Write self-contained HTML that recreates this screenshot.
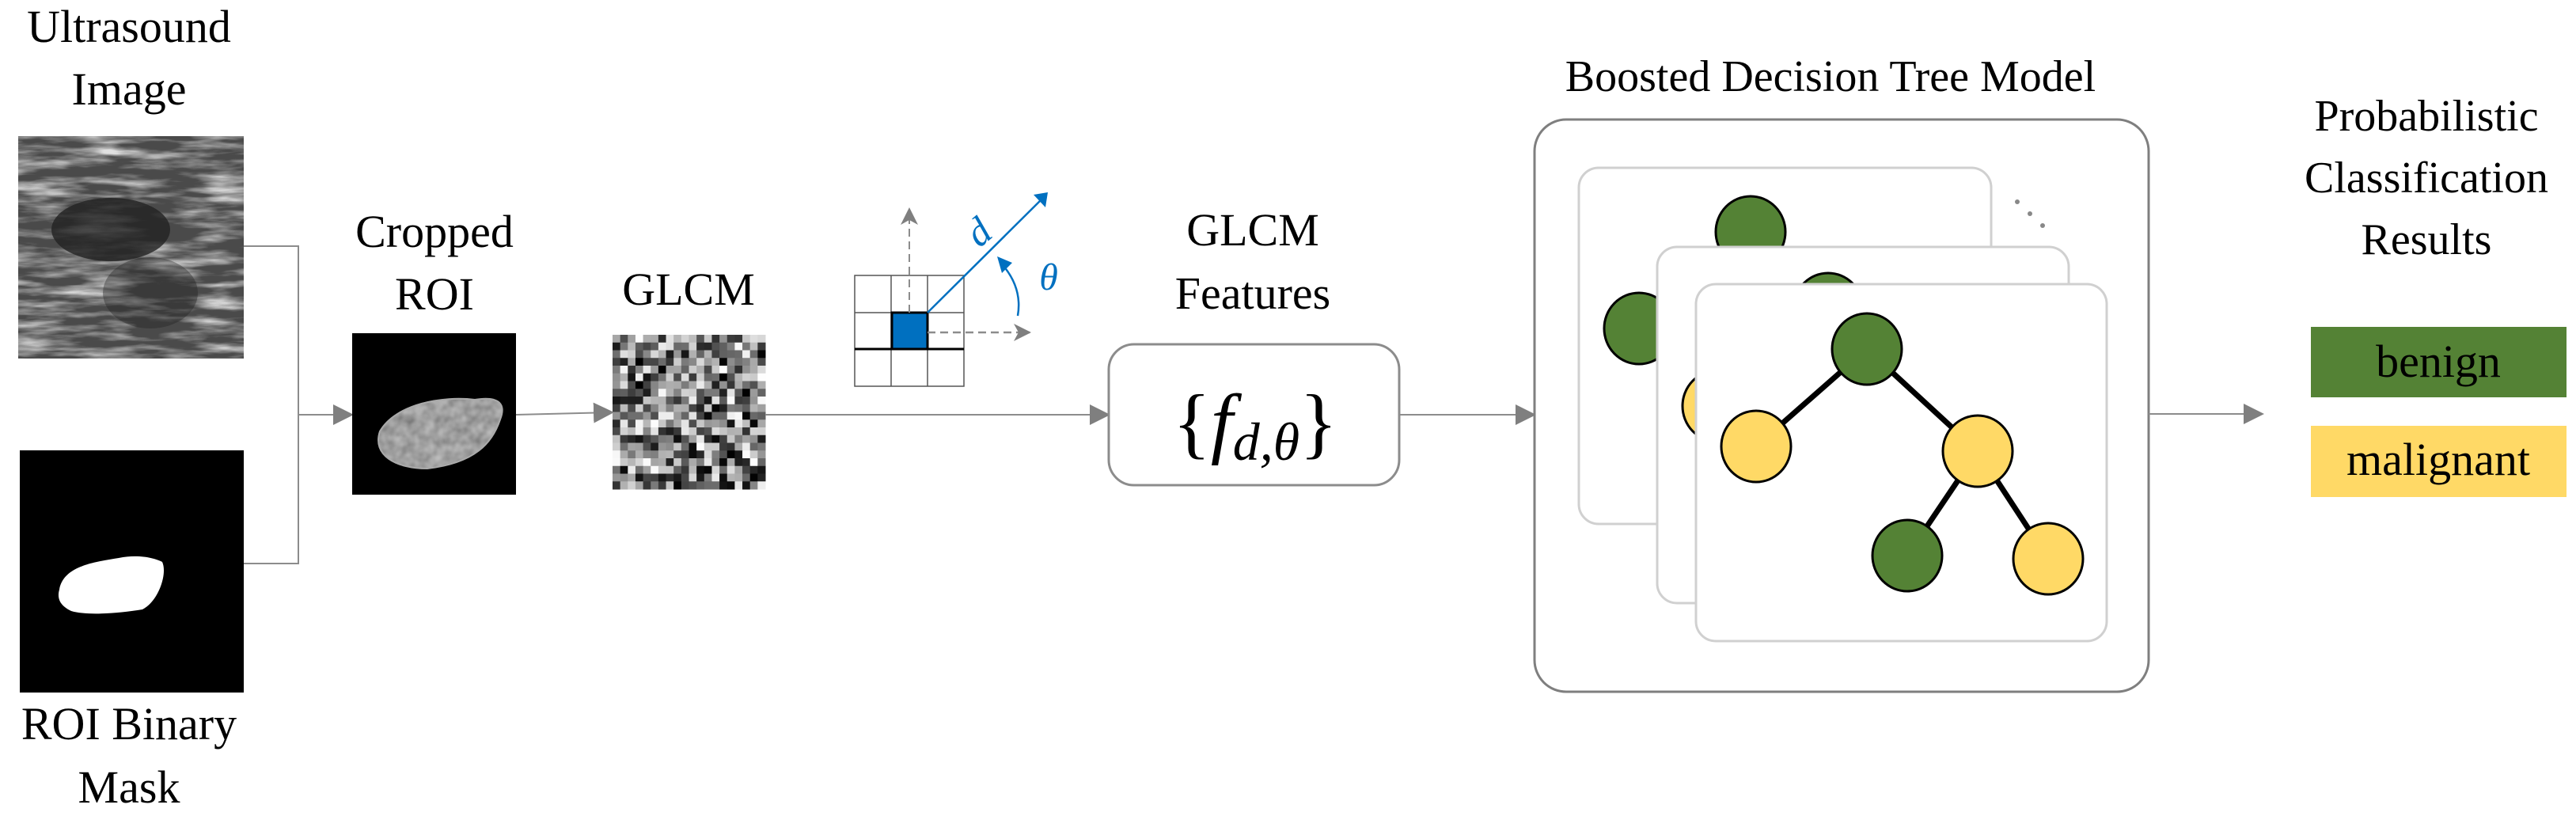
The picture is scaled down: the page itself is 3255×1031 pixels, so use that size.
<!DOCTYPE html>
<html><head><meta charset="utf-8"><style>
html,body{margin:0;padding:0;background:#fff;}
body{position:relative;width:3255px;height:1031px;overflow:hidden;}
svg{display:block;position:absolute;left:0;top:0;}
.t{position:absolute;font-family:"Liberation Serif","Times New Roman","DejaVu Serif",serif;line-height:1;text-align:center;white-space:nowrap;color:#000;transform:translateX(-50%);}
</style></head><body>
<svg id="s" width="3255" height="1031" viewBox="0 0 3255 1031" xmlns="http://www.w3.org/2000/svg">
<defs>
<filter id="us" x="0" y="0" width="100%" height="100%">
<feTurbulence type="fractalNoise" baseFrequency="0.012 0.08" numOctaves="4" seed="4"/>
<feColorMatrix type="matrix" values="0 0 0 0 0.75  0 0 0 0 0.75  0 0 0 0 0.75  2.2 0 0 0 -0.9"/>
</filter>
<filter id="roi" x="0" y="0" width="100%" height="100%">
<feTurbulence type="fractalNoise" baseFrequency="0.08" numOctaves="2" seed="2"/>
<feColorMatrix type="matrix" values="0.4 0 0 0 0.15  0.4 0 0 0 0.15  0.4 0 0 0 0.15  0 0 0 0 1"/>
</filter>
<clipPath id="roiClip"><path d="M480 545 C500 510 560 500 600 505 C630 500 640 510 632 530 C622 560 600 585 540 592 C500 592 470 575 480 545 Z"/></clipPath>
<marker id="ag" markerWidth="26" markerHeight="26" refX="24" refY="13" orient="auto" markerUnits="userSpaceOnUse"><path d="M0 0 L26 13 L0 26 Z" fill="#7f7f7f"/></marker>
<marker id="ags" markerWidth="22" markerHeight="22" refX="20" refY="11" orient="auto" markerUnits="userSpaceOnUse"><path d="M0 0 L22 11 L0 22 L6 11 Z" fill="#7f7f7f"/></marker>
</defs>

<rect x="23" y="172" width="285" height="281" fill="#4a4a4a"/>
<rect x="23" y="172" width="285" height="281" filter="url(#us)"/>
<ellipse cx="140" cy="290" rx="75" ry="40" fill="#222" opacity="0.8"/>
<ellipse cx="190" cy="370" rx="60" ry="45" fill="#222" opacity="0.4"/>

<rect x="25" y="569" width="283" height="306" fill="#000"/>
<path d="M75 745 C80 715 120 710 150 705 C175 700 195 705 205 710 C212 725 200 760 180 770 C150 775 110 778 90 772 C75 765 72 755 75 745 Z" fill="#fff"/>

<polyline points="308,311 377,311 377,712 308,712" fill="none" stroke="#8c8c8c" stroke-width="2"/>
<line x1="377" y1="524" x2="445" y2="524" stroke="#8c8c8c" stroke-width="2" marker-end="url(#ag)"/>

<rect x="445" y="421" width="207" height="204" fill="#000"/>
<g clip-path="url(#roiClip)"><rect x="460" y="495" width="180" height="105" filter="url(#roi)"/></g>
<path d="M480 545 C500 510 560 500 600 505 C630 500 640 510 632 530 C622 560 600 585 540 592 C500 592 470 575 480 545 Z" fill="none" stroke="#aaa" stroke-width="2"/>

<line x1="652" y1="524" x2="774" y2="521" stroke="#8c8c8c" stroke-width="2" marker-end="url(#ag)"/>

<g id="glcm"></g>

<line x1="967" y1="524" x2="1401" y2="524" stroke="#8c8c8c" stroke-width="2" marker-end="url(#ag)"/>

<g stroke="#555" stroke-width="1.5" fill="none">
<rect x="1080" y="348" width="138" height="140"/>
<line x1="1126" y1="348" x2="1126" y2="488"/><line x1="1172" y1="348" x2="1172" y2="488"/>
<line x1="1080" y1="395" x2="1218" y2="395"/><line x1="1080" y1="441" x2="1218" y2="441"/>
</g>
<line x1="1080" y1="441" x2="1218" y2="441" stroke="#000" stroke-width="3"/>
<rect x="1127" y="395" width="45" height="46" fill="#0070c0" stroke="#000" stroke-width="3"/>
<line x1="1149" y1="395" x2="1149" y2="264" stroke="#8c8c8c" stroke-width="2" stroke-dasharray="10,6" marker-end="url(#ags)"/>
<line x1="1172" y1="420" x2="1301" y2="420" stroke="#8c8c8c" stroke-width="2.5" stroke-dasharray="10,6" marker-end="url(#ags)"/>
<line x1="1172" y1="395" x2="1318" y2="250" stroke="#0070c0" stroke-width="2.5"/>
<path d="M1306 246 L1324 243 L1321 262 Z" fill="#0070c0"/>
<path d="M1286 399 Q1292 365 1268 336" fill="none" stroke="#0070c0" stroke-width="2.5"/>
<path d="M1260 324 L1279 332 L1266 345 Z" fill="#0070c0"/>

<rect x="1401" y="435" width="367" height="178" rx="32" fill="#fff" stroke="#8c8c8c" stroke-width="3"/>

<line x1="1768" y1="524" x2="1939" y2="524" stroke="#8c8c8c" stroke-width="2" marker-end="url(#ag)"/>

<rect x="1939" y="151" width="776" height="723" rx="40" fill="#fff" stroke="#7f7f7f" stroke-width="3"/>
<rect x="1995" y="212" width="521" height="450" rx="25" fill="#fff" stroke="#d0d0d0" stroke-width="3"/>
<circle cx="2549" cy="255" r="3" fill="#888"/><circle cx="2565" cy="270" r="3" fill="#888"/><circle cx="2581" cy="285" r="3" fill="#888"/>
<ellipse cx="2212" cy="293" rx="44" ry="45" fill="#548235" stroke="#000" stroke-width="3"/>
<ellipse cx="2071" cy="415" rx="44" ry="45" fill="#548235" stroke="#000" stroke-width="3"/>
<rect x="2094" y="312" width="520" height="450" rx="25" fill="#fff" stroke="#d0d0d0" stroke-width="3"/>
<ellipse cx="2310" cy="390" rx="44" ry="45" fill="#548235" stroke="#000" stroke-width="3"/>
<ellipse cx="2170" cy="513" rx="44" ry="45" fill="#ffd966" stroke="#000" stroke-width="3"/>
<rect x="2143" y="359" width="519" height="451" rx="25" fill="#fff" stroke="#d0d0d0" stroke-width="3"/>
<g stroke="#000" stroke-width="7">
<line x1="2359" y1="441" x2="2219" y2="564"/><line x1="2359" y1="441" x2="2499" y2="570"/>
<line x1="2499" y1="570" x2="2410" y2="702"/><line x1="2499" y1="570" x2="2588" y2="706"/>
</g>
<g stroke="#000" stroke-width="3">
<ellipse cx="2359" cy="441" rx="44" ry="45" fill="#548235"/>
<ellipse cx="2219" cy="564" rx="44" ry="45" fill="#ffd966"/>
<ellipse cx="2499" cy="570" rx="44" ry="45" fill="#ffd966"/>
<ellipse cx="2410" cy="702" rx="44" ry="45" fill="#548235"/>
<ellipse cx="2588" cy="706" rx="44" ry="45" fill="#ffd966"/>
</g>

<line x1="2715" y1="523" x2="2859" y2="523" stroke="#8c8c8c" stroke-width="2" marker-end="url(#ag)"/>

<rect x="2920" y="413" width="323" height="89" fill="#548235"/>
<rect x="2920" y="538" width="323" height="90" fill="#ffd966"/>
</svg>

<div class="t" style="left:163px;top:5px;font-size:58px;">Ultrasound</div>
<div class="t" style="left:163px;top:84px;font-size:58px;">Image</div>
<div class="t" style="left:163px;top:886px;font-size:58px;">ROI Binary</div>
<div class="t" style="left:163px;top:966px;font-size:58px;">Mask</div>
<div class="t" style="left:549px;top:264px;font-size:58px;">Cropped</div>
<div class="t" style="left:549px;top:343px;font-size:58px;">ROI</div>
<div class="t" style="left:870px;top:337px;font-size:58px;">GLCM</div>
<div class="t" style="left:1583px;top:262px;font-size:58px;">GLCM</div>
<div class="t" style="left:1583px;top:342px;font-size:58px;">Features</div>
<div class="t" style="left:2313px;top:69px;font-size:56px;">Boosted Decision Tree Model</div>
<div class="t" style="left:3066px;top:119px;font-size:56px;">Probabilistic</div>
<div class="t" style="left:3066px;top:197px;font-size:56px;">Classification</div>
<div class="t" style="left:3066px;top:275px;font-size:56px;">Results</div>
<div class="t" style="left:3081px;top:428px;font-size:58px;">benign</div>
<div class="t" style="left:3081px;top:552px;font-size:58px;">malignant</div>
<div class="t" style="left:1586px;top:484px;font-size:100px;">{<i>f</i><i style="font-size:68px;position:relative;top:14px;">d,θ</i>}</div>
<div class="t" style="left:1236px;top:268px;font-size:50px;color:#0070c0;font-style:italic;transform:translateX(-50%) rotate(-40deg);">d</div>
<div class="t" style="left:1325px;top:327px;font-size:48px;color:#0070c0;font-style:italic;">θ</div>

<script>
(function(){
var g=document.getElementById('glcm'),ns='http://www.w3.org/2000/svg',seed=12345;
function r(){seed=(seed*1103515245+12345)&0x7fffffff;return seed/0x7fffffff;}
var n=20,x0=774,y0=423,w=193/n,h=195/n;
for(var i=0;i<n;i++)for(var j=0;j<n;j++){var v=Math.floor(r()*255);
var e=document.createElementNS(ns,'rect');e.setAttribute('x',x0+j*w);e.setAttribute('y',y0+i*h);
e.setAttribute('width',w+0.5);e.setAttribute('height',h+0.5);e.setAttribute('fill','rgb('+v+','+v+','+v+')');g.appendChild(e);}
})();
</script>
</body></html>
